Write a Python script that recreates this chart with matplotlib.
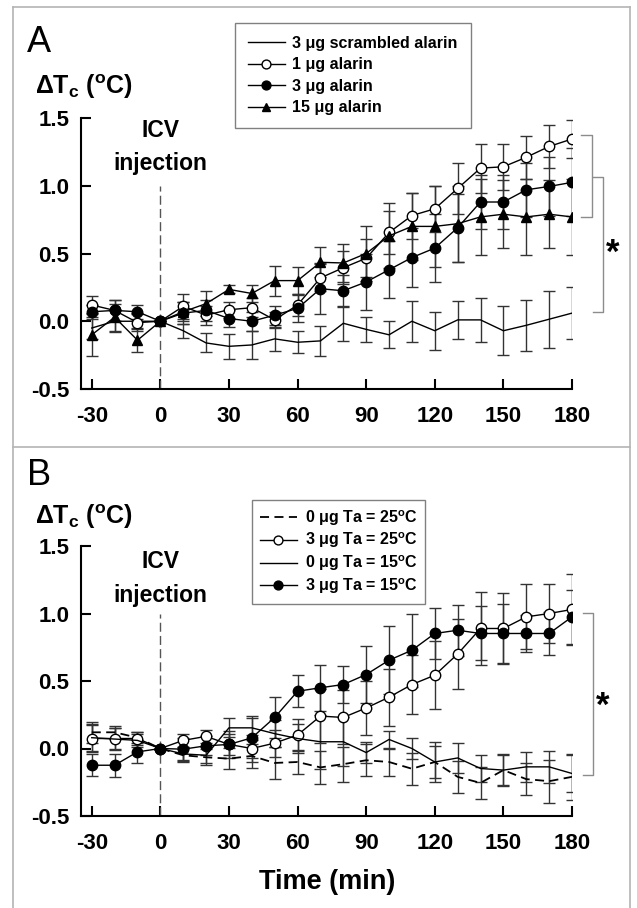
import matplotlib
matplotlib.use('Agg')
import matplotlib.pyplot as plt
from matplotlib.lines import Line2D

plt.rcParams['font.family'] = ['Liberation Sans', 'DejaVu Sans']
plt.rcParams['mathtext.fontset'] = 'custom'
plt.rcParams['mathtext.rm'] = 'Liberation Sans'
plt.rcParams['mathtext.bf'] = 'Liberation Sans:bold'

# time after injection (min)
time = [-30, -20, -10, 0, 10, 20, 30, 40, 50, 60, 70, 80, 90, 100, 110,
        120, 130, 140, 150, 160, 170, 180]
xticks = [-30, 0, 30, 60, 90, 120, 150, 180]
yticks = [-0.5, 0.0, 0.5, 1.0, 1.5]

# panel A: alarin doses
scr_a = [-0.05, 0.0, 0.0, 0.0, -0.07, -0.16, -0.185, -0.175, -0.13, -0.155, -0.145,
         -0.015, -0.06, -0.10, 0.0, -0.07, 0.01, 0.01, -0.07, -0.03, 0.015, 0.06]
scr_a_se = [0.08, 0.08, 0.06, 0.0, 0.05, 0.07, 0.09, 0.1, 0.09, 0.08, 0.11,
            0.13, 0.09, 0.1, 0.15, 0.14, 0.14, 0.16, 0.18, 0.19, 0.21, 0.19]
one_a = [0.12, 0.08, -0.01, 0.0, 0.11, 0.045, 0.085, 0.10, 0.01, 0.12, 0.32,
         0.395, 0.465, 0.655, 0.78, 0.83, 0.98, 1.13, 1.14, 1.21, 1.29, 1.345]
one_a_se = [0.07, 0.08, 0.06, 0.0, 0.09, 0.07, 0.06, 0.07, 0.06, 0.08, 0.1,
            0.12, 0.14, 0.16, 0.17, 0.17, 0.19, 0.18, 0.17, 0.16, 0.16, 0.14]
three_a = [0.07, 0.08, 0.07, 0.0, 0.06, 0.08, 0.02, 0.0, 0.045, 0.095, 0.24,
           0.225, 0.29, 0.38, 0.47, 0.54, 0.69, 0.88, 0.88, 0.97, 0.995, 1.025]
three_a_se = [0.05, 0.08, 0.05, 0.0, 0.08, 0.08, 0.06, 0.07, 0.07, 0.1, 0.19,
              0.12, 0.21, 0.21, 0.22, 0.25, 0.25, 0.2, 0.2, 0.2, 0.22, 0.25]
fifteen_a = [-0.10, 0.03, -0.14, 0.0, 0.07, 0.13, 0.235, 0.205, 0.30, 0.30, 0.435,
             0.43, 0.50, 0.63, 0.70, 0.70, 0.72, 0.77, 0.79, 0.77, 0.79, 0.77]
fifteen_a_se = [0.16, 0.1, 0.09, 0.0, 0.07, 0.09, 0.03, 0.06, 0.11, 0.1, 0.11,
                0.14, 0.2, 0.24, 0.25, 0.3, 0.28, 0.28, 0.25, 0.28, 0.25, 0.28]
labels_a = ['3 \u03bcg scrambled alarin', '1 \u03bcg alarin', '3 \u03bcg alarin', '15 \u03bcg alarin']

# panel B: ambient temperature
veh25_b = [0.12, 0.12, 0.08, 0.0, -0.05, -0.065, -0.075, -0.055, -0.107, -0.10, -0.14,
           -0.116, -0.087, -0.10, -0.15, -0.10, -0.21, -0.255, -0.16, -0.227, -0.242, -0.21]
veh25_b_se = [0.08, 0.05, 0.04, 0.0, 0.05, 0.06, 0.08, 0.09, 0.12, 0.09, 0.12,
              0.13, 0.12, 0.1, 0.12, 0.15, 0.12, 0.12, 0.12, 0.12, 0.16, 0.17]
ala25_b = [0.074, 0.074, 0.074, 0.0, 0.06, 0.09, 0.03, 0.0, 0.04, 0.10, 0.24,
           0.23, 0.30, 0.38, 0.474, 0.543, 0.70, 0.889, 0.889, 0.975, 1.0, 1.03]
ala25_b_se = [0.1, 0.08, 0.05, 0.0, 0.05, 0.05, 0.08, 0.1, 0.1, 0.12, 0.2,
              0.2, 0.2, 0.21, 0.22, 0.25, 0.26, 0.27, 0.26, 0.24, 0.22, 0.26]
veh15_b = [0.08, 0.07, 0.06, 0.0, -0.04, -0.05, 0.153, 0.153, 0.11, 0.074, 0.05,
           0.05, -0.03, 0.067, 0.0, -0.10, -0.07, -0.148, -0.16, -0.136, -0.136, -0.185]
veh15_b_se = [0.1, 0.08, 0.05, 0.0, 0.05, 0.06, 0.07, 0.09, 0.1, 0.11, 0.2,
              0.18, 0.08, 0.06, 0.08, 0.12, 0.11, 0.1, 0.11, 0.11, 0.12, 0.14]
ala15_b = [-0.124, -0.124, -0.025, 0.0, -0.005, 0.02, 0.03, 0.079, 0.23, 0.424, 0.45,
           0.474, 0.548, 0.654, 0.728, 0.852, 0.876, 0.852, 0.852, 0.852, 0.852, 0.975]
ala15_b_se = [0.08, 0.085, 0.085, 0.0, 0.08, 0.07, 0.1, 0.15, 0.15, 0.12, 0.17,
              0.14, 0.21, 0.25, 0.27, 0.19, 0.19, 0.2, 0.22, 0.14, 0.16, 0.2]
labels_b = ['0 \u03bcg Ta = 25$^\\mathbf{o}$C', '3 \u03bcg Ta = 25$^\\mathbf{o}$C',
            '0 \u03bcg Ta = 15$^\\mathbf{o}$C', '3 \u03bcg Ta = 15$^\\mathbf{o}$C']

W, H = 637, 908
fig = plt.figure(figsize=(W / 100, H / 100), dpi=100)


def fx(px):
    return px / W


def fy(py):
    return 1 - py / H


def style_axes(ax):
    ax.set_xlim(-34.7, 180)
    ax.set_ylim(-0.5, 1.5)
    ax.set_xticks(xticks)
    ax.set_xticklabels([str(t) for t in xticks])
    ax.set_yticks(yticks)
    ax.set_yticklabels(['%.1f' % t for t in yticks])
    ax.spines[['top', 'right']].set_visible(False)
    ax.spines['left'].set_linewidth(1.5)
    ax.spines['bottom'].set_linewidth(1.5)
    ax.tick_params(direction='in', length=7, width=1.5, labelsize=16)
    ax.tick_params(axis='x', pad=12.5)
    ax.tick_params(axis='y', pad=8.5)
    for lab in ax.get_xticklabels() + ax.get_yticklabels():
        lab.set_fontweight('bold')
    ax.patch.set_alpha(0)


def draw(ax, y, err, marker, fill, ls='-', lw=1.0):
    ax.errorbar(time, y, yerr=err, fmt='none', ecolor='#333333', elinewidth=1,
                capsize=4, capthick=1, zorder=2)
    ln, = ax.plot(time, y, color='black', lw=lw, ls=ls, marker=marker, ms=7.5,
                  mfc=fill, mec='black', mew=1, zorder=3)
    return ln


def bracket(ax, x0, x1, ytop, ybot):
    ax.plot([x0, x1, x1, x0], [ytop, ytop, ybot, ybot], color='#8c8c8c', lw=1,
            clip_on=False)


def legend(ax, handles, labels, x, y, spacing, pad):
    leg = ax.legend(handles, labels, loc='upper left', bbox_to_anchor=(fx(x), fy(y)),
                    bbox_transform=fig.transFigure, fancybox=False, edgecolor='#808080',
                    framealpha=1, prop={'weight': 'bold', 'size': 11.5}, handlelength=2.3,
                    handletextpad=0.5, labelspacing=spacing, borderpad=pad,
                    borderaxespad=0, markerscale=0.85)
    leg.get_frame().set_linewidth(1)
    return leg


# ---------- panel A ----------
axA = fig.add_axes([fx(81), fy(389), fx(572 - 81), (389 - 118) / H])
style_axes(axA)
axA.plot([0, 0], [-0.5, 1.0], color='#555555', lw=1, dashes=(6.5, 3))
hA = [
    draw(axA, scr_a, scr_a_se, None, 'none'),
    draw(axA, one_a, one_a_se, 'o', 'white'),
    draw(axA, three_a, three_a_se, 'o', 'black'),
    draw(axA, fifteen_a, fifteen_a_se, '^', 'black'),
]
axA.text(0, 1.36, 'ICV', ha='center', va='baseline', fontsize=16.5, fontweight='bold')
axA.text(0, 1.118, 'injection', ha='center', va='baseline', fontsize=16.5, fontweight='bold')
bracket(axA, 183.8, 188.6, 1.375, 0.767)
bracket(axA, 189.1, 193.7, 1.068, 0.068)
axA.text(198, 0.50, '*', ha='center', va='center', fontsize=25, fontweight='bold')
legend(axA, hA, labels_a, 235, 23.3, 0.4, 0.8)

# ---------- panel B ----------
axB = fig.add_axes([fx(81), fy(816), fx(572 - 81), (816 - 546) / H])
style_axes(axB)
axB.plot([0, 0], [-0.5, 1.0], color='#555555', lw=1, dashes=(6.5, 3))
hB = [
    draw(axB, veh25_b, veh25_b_se, None, 'none', ls=(0, (5, 3)), lw=1.3),
    draw(axB, ala25_b, ala25_b_se, 'o', 'white'),
    draw(axB, veh15_b, veh15_b_se, None, 'none'),
    draw(axB, ala15_b, ala15_b_se, 'o', 'black'),
]
axB.text(0, 1.336, 'ICV', ha='center', va='baseline', fontsize=16.5, fontweight='bold')
axB.text(0, 1.086, 'injection', ha='center', va='baseline', fontsize=16.5, fontweight='bold')
bracket(axB, 184.8, 189.2, 1.007, -0.198)
axB.text(193.6, 0.31, '*', ha='center', va='center', fontsize=25, fontweight='bold')
legend(axB, hB, labels_b, 252, 500, 0.2, 0.5)

# labels outside the axes
ylab = 'ΔT$_\\mathbf{c}$ ($^\\mathbf{o}$C)'
fig.text(fx(35), fy(94), ylab, fontsize=18, fontweight='bold', va='baseline')
fig.text(fx(35), fy(524), ylab, fontsize=18, fontweight='bold', va='baseline')
fig.text(fx(27), fy(52), 'A', fontsize=26, va='baseline')
fig.text(fx(27), fy(485), 'B', fontsize=26, va='baseline')
fig.text(fx(327), fy(889), 'Time (min)', fontsize=19.5, fontweight='bold',
         ha='center', va='baseline')

# light grey frame around the two panels
frame = dict(color='#b4b4b4', lw=1.2, transform=fig.transFigure)
fig.add_artist(Line2D([fx(12.7), fx(12.7)], [fy(6.7), 0], **frame))
fig.add_artist(Line2D([fx(630), fx(630)], [fy(6.7), 0], **frame))
fig.add_artist(Line2D([fx(12.7), fx(630)], [fy(6.7), fy(6.7)], **frame))
fig.add_artist(Line2D([fx(12.7), fx(630)], [fy(447), fy(447)], **frame))

fig.savefig('out.png', dpi=100)
